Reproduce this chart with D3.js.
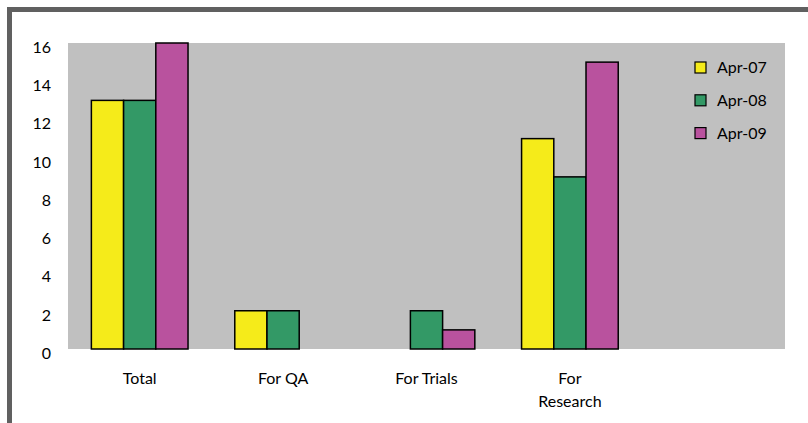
<!DOCTYPE html>
<html>
<head>
<meta charset="utf-8" />
<title></title>
<style>
html, body {
    padding: 0px;
    margin: 0px;
    background: #fff;
}
text {
    font-family: Lato, "Open Sans", sans-serif;
    font-size: 16px;
    fill: #000;
}
</style>
</head>
<body>
<div id="chart"></div>

<script src="https://cdnjs.cloudflare.com/ajax/libs/d3/7.8.5/d3.min.js"></script>
<script>
!(function(){
    "use strict";

    // chart values
    var categories = ["Total", "For QA", "For Trials", "For Research"];
    var categoryLines = [["Total"], ["For QA"], ["For Trials"], ["For", "Research"]];
    var series = ["Apr-07", "Apr-08", "Apr-09"];
    var apr07 = [13, 2, 0, 11];
    var apr08 = [13, 2, 2, 9];
    var apr09 = [16, 0, 1, 15];
    var yTicks = [0, 2, 4, 6, 8, 10, 12, 14, 16];
    var colors = ["#f5eb1a", "#339966", "#b9529e"];

    var values = [apr07, apr08, apr09];

    var W = 808, H = 423;
    var plot = {left: 68, right: 785, top: 43, bottom: 349};

    var svg = d3.select("#chart").append("svg")
        .attr("width", W)
        .attr("height", H);

    // outer frame (top and left edges show)
    svg.append("rect")
        .attr("x", 9.5).attr("y", 9.5)
        .attr("width", 900).attr("height", 600)
        .attr("fill", "#fff")
        .attr("stroke", "#606060")
        .attr("stroke-width", 5);

    // one extra empty slot on the right, like the original
    var slots = categories.concat(["_blank"]);

    var x0 = d3.scaleBand()
        .domain(slots)
        .range([plot.left, plot.right])
        .paddingInner(0.326)
        .paddingOuter(0.163);

    var x1 = d3.scaleBand()
        .domain(series)
        .range([0, x0.bandwidth()]);

    var y = d3.scaleLinear()
        .domain([0, 16])
        .range([plot.bottom, plot.top]);

    svg.append("rect")
        .attr("x", plot.left)
        .attr("y", plot.top)
        .attr("width", plot.right - plot.left)
        .attr("height", plot.bottom - plot.top)
        .attr("fill", "#c0c0c0");

    // y axis labels only
    var yAxis = svg.append("g")
        .attr("transform", "translate(" + plot.left + ",0)")
        .call(d3.axisLeft(y).tickValues(yTicks).tickSize(0).tickPadding(17));
    yAxis.select(".domain").remove();
    yAxis.selectAll("text")
        .attr("dy", "0.58em")
        .style("font-family", "Lato, 'Open Sans', sans-serif")
        .style("font-size", "16px")
        .attr("fill", "#000");

    // bars
    var rows = [];
    categories.forEach(function(c, i) {
        series.forEach(function(s, j) {
            if (values[j][i] > 0) rows.push({cat: c, ser: s, v: values[j][i], j: j});
        });
    });

    svg.append("g").selectAll("rect")
        .data(rows)
        .enter()
        .append("rect")
        .attr("x", function(d) { return x0(d.cat) + x1(d.ser); })
        .attr("y", function(d) { return y(d.v); })
        .attr("width", x1.bandwidth())
        .attr("height", function(d) { return y(0) - y(d.v); })
        .attr("fill", function(d) { return colors[d.j]; })
        .attr("stroke", "#000")
        .attr("stroke-width", 1.5);

    // category labels
    var labels = svg.append("g").selectAll("text")
        .data(categories)
        .enter()
        .append("text")
        .attr("text-anchor", "middle")
        .attr("x", function(d) { return x0(d) + x0.bandwidth() / 2; })
        .attr("y", plot.bottom + 35);

    labels.each(function(d, i) {
        var t = d3.select(this);
        categoryLines[i].forEach(function(line, k) {
            t.append("tspan")
                .attr("x", x0(d) + x0.bandwidth() / 2)
                .attr("dy", k === 0 ? 0 : 23)
                .text(line);
        });
    });

    // legend
    var legend = svg.append("g").selectAll("g")
        .data(series)
        .enter()
        .append("g")
        .attr("transform", function(d, i) { return "translate(695," + (67.5 + i * 32.8) + ")"; });

    legend.append("rect")
        .attr("x", 0).attr("y", -5.5)
        .attr("width", 11).attr("height", 11)
        .attr("fill", function(d, i) { return colors[i]; })
        .attr("stroke", "#000")
        .attr("stroke-width", 1.2);

    legend.append("text")
        .attr("x", 22)
        .attr("dy", "0.36em")
        .text(function(d) { return d; });

}());
</script>
</body>
</html>
